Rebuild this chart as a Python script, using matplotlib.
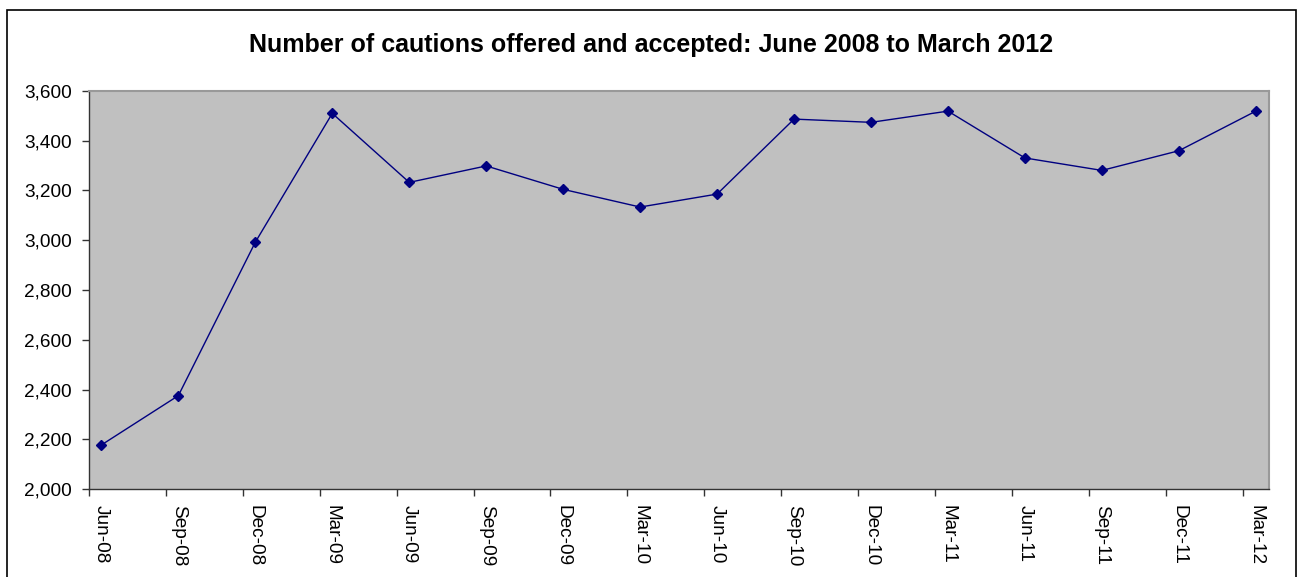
import matplotlib
matplotlib.use("Agg")
import matplotlib.pyplot as plt
from matplotlib.patches import Rectangle
from matplotlib.ticker import FuncFormatter, FixedLocator

quarters = ["Jun-08", "Sep-08", "Dec-08", "Mar-09", "Jun-09", "Sep-09", "Dec-09", "Mar-10",
            "Jun-10", "Sep-10", "Dec-10", "Mar-11", "Jun-11", "Sep-11", "Dec-11", "Mar-12"]
cautions = [2178, 2376, 2992, 3509, 3232, 3298, 3204, 3133,
            3185, 3486, 3473, 3518, 3330, 3280, 3359, 3518]
yticks = [2000, 2200, 2400, 2600, 2800, 3000, 3200, 3400, 3600]
title = "Number of cautions offered and accepted: June 2008 to March 2012"

plt.rcParams['font.family'] = ['Liberation Sans', 'DejaVu Sans']

W, H, DPI = 1298, 577, 100
fig = plt.figure(figsize=(W / DPI, H / DPI), dpi=DPI)

# outer border
fig.patches.append(Rectangle((7 / W, -0.05), (1296 - 7) / W, 1.05 - 10 / H,
                             transform=fig.transFigure, fill=False,
                             edgecolor='black', linewidth=1.2))

left, right, top, bottom = 88.7, 1269.3, 90.7, 489.3
ax = fig.add_axes([left / W, 1 - bottom / H, (right - left) / W, (bottom - top) / H])
ax.set_facecolor('#C0C0C0')

offset = 0.165
n = len(quarters)
xs = [i + offset for i in range(n)]
ax.plot(xs, cautions, color='#000080', linewidth=1.0, marker='D', markersize=5.2,
        markerfacecolor='#000080', markeredgecolor='#000080')

ax.set_xlim(0, 15.34)
ax.set_ylim(2000, 3600)
ax.set_yticks(yticks)
ax.yaxis.set_major_formatter(FuncFormatter(lambda v, p: f"{int(v):,}"))

ax.xaxis.set_major_locator(FixedLocator(list(range(n))))
ax.xaxis.set_minor_locator(FixedLocator(xs))
ax.set_xticklabels([], minor=False)
ax.set_xticklabels(quarters, minor=True, rotation=-90, fontsize=13.7)
ax.tick_params(axis='x', which='minor', length=0, pad=11.5)
ax.tick_params(axis='x', which='major', length=5, width=1, color='#333333', direction='out')
ax.tick_params(axis='y', length=5, width=1, color='#333333', direction='out', labelsize=13.7, pad=7)

for s in ['left', 'bottom']:
    ax.spines[s].set_color('#333333')
    ax.spines[s].set_linewidth(1.0)
for s in ['top', 'right']:
    ax.spines[s].set_color('#999999')
    ax.spines[s].set_linewidth(1.5)

fig.text(0.5 * (7 + 1296) / W, 1 - 45 / H, title, ha='center', va='center',
         fontsize=18, fontweight='bold')

fig.savefig('out.png', dpi=DPI)
